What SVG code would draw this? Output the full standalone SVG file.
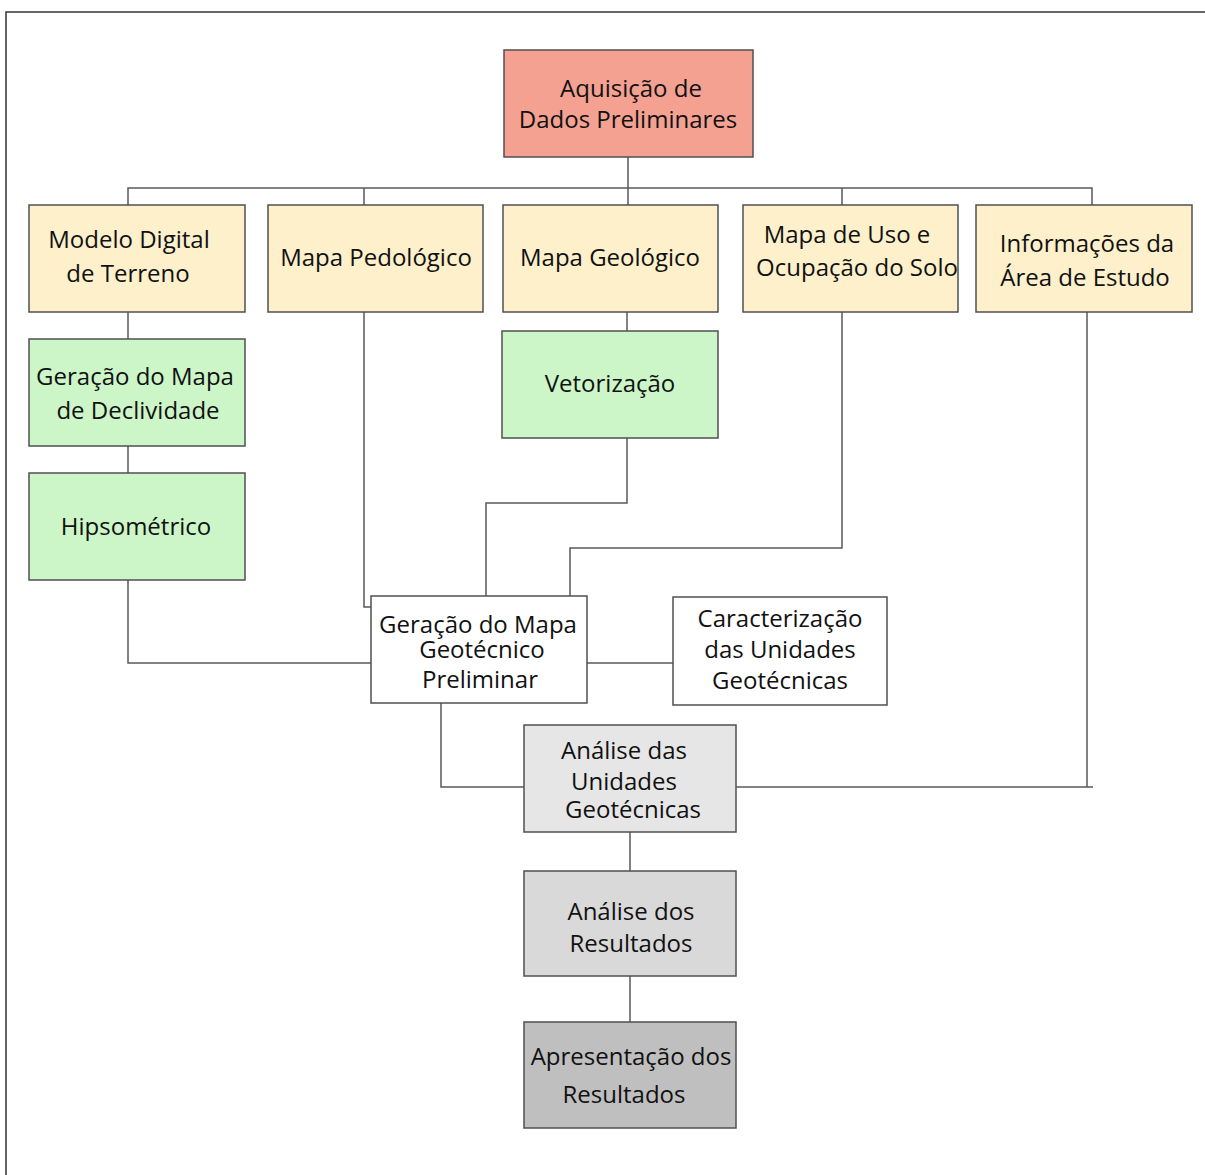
<svg xmlns="http://www.w3.org/2000/svg" width="1205" height="1175" viewBox="0 0 1205 1175">
<style>
.box{stroke:#505050;stroke-width:1.5}
.red{fill:#F4A192}
.yel{fill:#FDF0CB}
.grn{fill:#CCF6C8}
.wht{fill:#FFFFFF}
.g1{fill:#E6E6E6}
.g2{fill:#D9D9D9}
.g3{fill:#BFBFBF}
text{font-family:"Open Sans","DejaVu Sans",sans-serif;font-size:24px;fill:#111;text-anchor:middle}
.conn{fill:none;stroke:#595959;stroke-width:1.5}
</style>
<rect x="0" y="0" width="1205" height="1175" fill="#FFFFFF"/>
<path d="M6,1180 V12 H1210" fill="none" stroke="#333" stroke-width="1.5"/>
<g id="connectors" class="conn">
<path d="M628,157 V205"/>
<path d="M128,205 V188 H1092 V205"/>
<path d="M364,188 V205"/>
<path d="M842,188 V205"/>
<path d="M128,312 V339"/>
<path d="M128,446 V473"/>
<path d="M128,580 V663 H371"/>
<path d="M364,312 V607 H371"/>
<path d="M627,312 V331"/>
<path d="M627,438 V503 H486 V596"/>
<path d="M842,312 V548 H570 V596"/>
<path d="M587,663 H673"/>
<path d="M441,703 V787 H524"/>
<path d="M736,787 H1093"/>
<path d="M1087,312 V787"/>
<path d="M630,832 V871"/>
<path d="M630,976 V1022"/>
</g>
<g id="n_aquisicao"><rect class="box red" x="504" y="50" width="249" height="107"/><text x="631" y="97">Aquisição de</text><text x="628" y="128">Dados Preliminares</text></g>
<g id="n_mdt"><rect class="box yel" x="29" y="205" width="216" height="107"/><text x="129" y="248">Modelo Digital</text><text x="128" y="282">de Terreno</text></g>
<g id="n_pedologico"><rect class="box yel" x="268" y="205" width="215" height="107"/><text x="376" y="266">Mapa Pedológico</text></g>
<g id="n_geologico"><rect class="box yel" x="503" y="205" width="215" height="107"/><text x="610" y="266">Mapa Geológico</text></g>
<g id="n_uso"><rect class="box yel" x="743" y="205" width="215" height="107"/><text x="847" y="243">Mapa de Uso e</text><text x="857" y="276">Ocupação do Solo</text></g>
<g id="n_info"><rect class="box yel" x="976" y="205" width="216" height="107"/><text x="1087" y="252">Informações da</text><text x="1085" y="286">Área de Estudo</text></g>
<g id="n_declividade"><rect class="box grn" x="29" y="339" width="216" height="107"/><text x="135" y="385">Geração do Mapa</text><text x="138" y="419">de Declividade</text></g>
<g id="n_hipsometrico"><rect class="box grn" x="29" y="473" width="216" height="107"/><text x="136" y="535">Hipsométrico</text></g>
<g id="n_vetorizacao"><rect class="box grn" x="502" y="331" width="216" height="107"/><text x="610" y="392">Vetorização</text></g>
<g id="n_geotecnico"><rect class="box wht" x="371" y="596" width="216" height="107"/><text x="478" y="633">Geração do Mapa</text><text x="482" y="658">Geotécnico</text><text x="480" y="688">Preliminar</text></g>
<g id="n_caracterizacao"><rect class="box wht" x="673" y="597" width="214" height="108"/><text x="780" y="627">Caracterização</text><text x="780" y="658">das Unidades</text><text x="780" y="689">Geotécnicas</text></g>
<g id="n_analise_unidades"><rect class="box g1" x="524" y="725" width="212" height="107"/><text x="624" y="759">Análise das</text><text x="624" y="790">Unidades</text><text x="633" y="818">Geotécnicas</text></g>
<g id="n_analise_resultados"><rect class="box g2" x="524" y="871" width="212" height="105"/><text x="631" y="920">Análise dos</text><text x="631" y="952">Resultados</text></g>
<g id="n_apresentacao"><rect class="box g3" x="524" y="1022" width="212" height="106"/><text x="631" y="1065">Apresentação dos</text><text x="624" y="1103">Resultados</text></g>
</svg>
